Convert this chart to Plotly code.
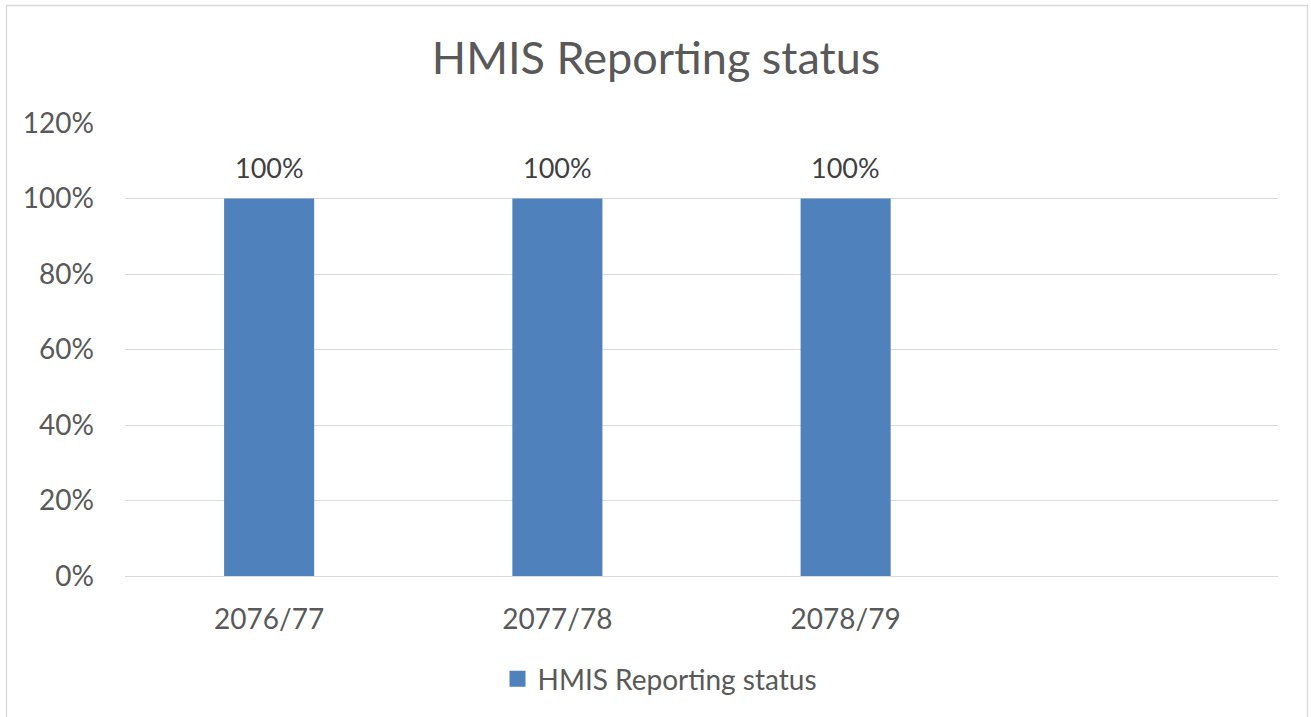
import plotly.graph_objects as go

categories = ["2076/77", "2077/78", "2078/79"]
values = [1.0, 1.0, 1.0]
series_name = "HMIS Reporting status"
title_text = "HMIS Reporting status"
y_tickvals = [0, 0.2, 0.4, 0.6, 0.8, 1.0, 1.2]
y_ticktext = ["0%", "20%", "40%", "60%", "80%", "100%", "120%"]
n_slots = 4  # chart reserves room for a fourth (empty) category

W, H = 1311, 717
ml, mr, mt, mb = 125, 33, 123, 141
pw, ph = W - ml - mr, H - mt - mb

FONT = "Lato, 'Open Sans', sans-serif"
TXT = "#595959"
BAR = "#4F81BD"

xs = list(range(len(categories)))
fig = go.Figure()
fig.add_trace(go.Bar(
    x=xs, y=values, name=series_name, showlegend=False,
    marker=dict(color=BAR, line=dict(width=0)),
    width=0.3125,
))
# legend entry with a larger square swatch
fig.add_trace(go.Scatter(
    x=[None], y=[None], mode="markers", name=series_name, showlegend=True,
    marker=dict(symbol="square", size=18, color=BAR),
))

for xv, v in zip(xs, values):
    fig.add_annotation(x=xv, y=v, text=f"{v:.0%}", showarrow=False,
                       yanchor="middle", yshift=31,
                       font=dict(size=27, color="#404040", family=FONT))


def px_x(p):
    return (p - ml) / pw


def px_y(p):
    return 1 - (p - mt) / ph


fig.add_shape(type="rect", xref="paper", yref="paper",
              x0=px_x(6.5), x1=px_x(1307.5), y0=px_y(720), y1=px_y(5.5),
              line=dict(color="#D9D9D9", width=1.3), fillcolor="rgba(0,0,0,0)", layer="below")

fig.update_layout(
    width=W, height=H,
    margin=dict(l=ml, r=mr, t=mt, b=mb),
    paper_bgcolor="white", plot_bgcolor="white",
    title=dict(text=title_text, x=656 / W, xref="container", xanchor="center",
               y=1 - 58 / H, yref="container", yanchor="middle",
               font=dict(size=45, color=TXT, family=FONT)),
    font=dict(family=FONT, color=TXT),
    showlegend=True,
    legend=dict(orientation="h", xref="container", yref="container",
                x=660 / W, xanchor="center", y=1 - 679 / H, yanchor="middle",
                font=dict(size=28, color=TXT, family=FONT),
                itemwidth=30, itemsizing="trace"),
    xaxis=dict(range=[-0.5, n_slots - 0.5], tickvals=xs, ticktext=categories,
               showgrid=False, zeroline=False, showline=False, ticks="",
               tickfont=dict(size=28, color=TXT, family=FONT), ticklabelstandoff=24),
    yaxis=dict(range=[0, 1.2], tickvals=y_tickvals, ticktext=y_ticktext,
               showgrid=True, gridcolor="#D9D9D9", gridwidth=1.3,
               zeroline=True, zerolinecolor="#D9D9D9", zerolinewidth=1.3,
               showline=False, ticks="",
               tickfont=dict(size=28, color=TXT, family=FONT), ticklabelstandoff=30),
)

fig.write_html("out.html", config={"displayModeBar": False},
               post_script="document.body.style.margin='0px';")
